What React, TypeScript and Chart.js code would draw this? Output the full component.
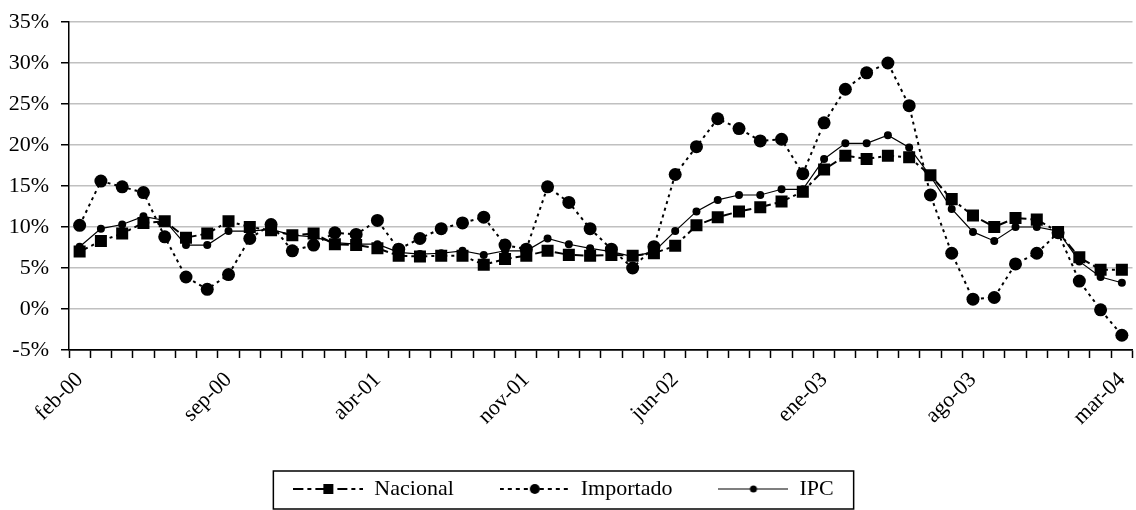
import React, { useEffect, useRef } from 'react';
import { Chart, registerables } from 'chart.js';

Chart.register(...registerables);

const months = [
  'feb-00', 'mar-00', 'abr-00', 'may-00', 'jun-00', 'jul-00', 'ago-00', 'sep-00', 'oct-00', 'nov-00', 'dic-00',
  'ene-01', 'feb-01', 'mar-01', 'abr-01', 'may-01', 'jun-01', 'jul-01', 'ago-01', 'sep-01', 'oct-01', 'nov-01', 'dic-01',
  'ene-02', 'feb-02', 'mar-02', 'abr-02', 'may-02', 'jun-02', 'jul-02', 'ago-02', 'sep-02', 'oct-02', 'nov-02', 'dic-02',
  'ene-03', 'feb-03', 'mar-03', 'abr-03', 'may-03', 'jun-03', 'jul-03', 'ago-03', 'sep-03', 'oct-03', 'nov-03', 'dic-03',
  'ene-04', 'feb-04', 'mar-04',
];

const shownLabels = ['feb-00', 'sep-00', 'abr-01', 'nov-01', 'jun-02', 'ene-03', 'ago-03', 'mar-04'];

const nacional = [
  7.0, 8.3, 9.2, 10.5, 10.7, 8.7, 9.2, 10.7, 10.0, 9.6, 9.0,
  9.2, 7.9, 7.8, 7.4, 6.5, 6.4, 6.5, 6.5, 5.4, 6.1, 6.5, 7.1,
  6.6, 6.5, 6.6, 6.5, 6.8, 7.7, 10.2, 11.2, 11.9, 12.4, 13.1, 14.3,
  17.0, 18.7, 18.3, 18.7, 18.5, 16.3, 13.4, 11.4, 10.0, 11.1, 10.9, 9.4,
  6.3, 4.8, 4.8,
];

const importado = [
  10.2, 15.6, 14.9, 14.2, 8.8, 3.9, 2.4, 4.2, 8.6, 10.3, 7.1,
  7.8, 9.3, 9.1, 10.8, 7.3, 8.6, 9.8, 10.5, 11.2, 7.8, 7.3, 14.9,
  13.0, 9.8, 7.3, 5.0, 7.6, 16.4, 19.8, 23.2, 22.0, 20.5, 20.7, 16.5,
  22.7, 26.8, 28.8, 30.0, 24.8, 13.9, 6.8, 1.2, 1.4, 5.5, 6.8, 9.3,
  3.4, -0.1, -3.2,
];

const ipc = [
  7.6, 9.8, 10.3, 11.3, 10.8, 7.8, 7.8, 9.5, 9.5, 9.7, 9.0,
  8.8, 8.1, 7.9, 7.9, 6.9, 6.7, 6.8, 7.1, 6.6, 7.1, 7.1, 8.6,
  7.9, 7.4, 7.0, 6.4, 7.0, 9.5, 11.9, 13.3, 13.9, 13.9, 14.6, 14.6,
  18.3, 20.2, 20.2, 21.2, 19.7, 16.2, 12.2, 9.4, 8.3, 10.0, 10.0, 9.5,
  5.8, 3.9, 3.2,
];

const seriesNames = ['Nacional', 'Importado', 'IPC'];
const yMin = -5;
const yMax = 35;
const yStep = 5;

const FONT = '"Liberation Serif", "Times New Roman", serif';
const ICON_W = 70;
const LEGEND_FONT = 22;
const LEGEND_PAD = 46;

function makeIcon(dash: number[], lw: number, marker: 'rect' | 'circle', r: number) {
  const c = document.createElement('canvas');
  c.width = ICON_W;
  c.height = 18;
  const ctx = c.getContext('2d')!;
  ctx.strokeStyle = '#000';
  ctx.lineWidth = lw;
  ctx.setLineDash(dash);
  ctx.beginPath();
  ctx.moveTo(0, 9);
  ctx.lineTo(ICON_W, 9);
  ctx.stroke();
  ctx.setLineDash([]);
  ctx.fillStyle = '#000';
  if (marker === 'rect') {
    ctx.fillRect(ICON_W / 2 - r, 9 - r, 2 * r, 2 * r);
  } else {
    ctx.beginPath();
    ctx.arc(ICON_W / 2, 9, r, 0, Math.PI * 2);
    ctx.fill();
  }
  return c;
}

const legendBorder = {
  id: 'legendBorder',
  afterLayout(chart: any) {
    if (chart.legend) {
      chart.legend.right -= 14;
    }
  },
  afterDraw(chart: any) {
    const boxes = chart.legend && chart.legend.legendHitBoxes;
    if (!boxes || !boxes.length) return;
    const left = Math.min(...boxes.map((b: any) => b.left)) - 20;
    const right = Math.max(...boxes.map((b: any) => b.left + b.width)) + 20;
    const top = Math.min(...boxes.map((b: any) => b.top)) - 7;
    const bottom = Math.max(...boxes.map((b: any) => b.top + b.height)) + 9;
    const ctx = chart.ctx;
    ctx.save();
    ctx.strokeStyle = '#000';
    ctx.lineWidth = 1.5;
    ctx.strokeRect(left, top, right - left, bottom - top);
    ctx.restore();
  },
};

export default function App() {
  const ref = useRef<HTMLCanvasElement>(null);

  useEffect(() => {
    const icons = [
      makeIcon([10, 4, 4, 4], 2, 'rect', 5),
      makeIcon([4, 4], 2, 'circle', 5),
      makeIcon([], 1.2, 'circle', 3.5),
    ];
    const chart = new Chart(ref.current!, {
      type: 'line',
      data: {
        labels: months,
        datasets: [
          {
            label: seriesNames[0],
            data: nacional,
            order: 1,
            borderColor: '#000',
            backgroundColor: '#000',
            borderWidth: 2,
            borderDash: [9, 4, 3, 4],
            pointStyle: 'rect',
            pointRadius: 8.5,
            pointHoverRadius: 8.5,
            pointBackgroundColor: '#000',
            pointBorderColor: '#000',
            pointBorderWidth: 0,
            tension: 0,
          },
          {
            label: seriesNames[1],
            data: importado,
            order: 2,
            borderColor: '#000',
            backgroundColor: '#000',
            borderWidth: 2,
            borderDash: [3, 4],
            pointStyle: 'circle',
            pointRadius: 6.5,
            pointHoverRadius: 6.5,
            pointBackgroundColor: '#000',
            pointBorderColor: '#000',
            pointBorderWidth: 0,
            tension: 0,
          },
          {
            label: seriesNames[2],
            data: ipc,
            order: 0,
            borderColor: '#000',
            backgroundColor: '#000',
            borderWidth: 1.2,
            pointStyle: 'circle',
            pointRadius: 4,
            pointHoverRadius: 4,
            pointBackgroundColor: '#000',
            pointBorderColor: '#000',
            pointBorderWidth: 0,
            tension: 0,
          },
        ],
      },
      options: {
        responsive: false,
        animation: false,
        devicePixelRatio: 1,
        layout: { padding: { top: 22, bottom: 0, left: 0, right: 0 } },
        plugins: {
          tooltip: { enabled: false },
          legend: {
            position: 'bottom',
            labels: {
              usePointStyle: true,
              pointStyleWidth: ICON_W,
              color: '#000',
              padding: LEGEND_PAD,
              font: { family: FONT, size: LEGEND_FONT },
              sort: (a: any, b: any) => a.datasetIndex - b.datasetIndex,
              generateLabels: (c: any) => {
                const items = (Chart.defaults as any).plugins.legend.labels.generateLabels(c);
                items.forEach((it: any) => {
                  it.pointStyle = icons[it.datasetIndex];
                });
                return items;
              },
            },
          },
        },
        scales: {
          x: {
            type: 'category',
            offset: true,
            grid: {
              display: true,
              drawOnChartArea: false,
              drawTicks: true,
              tickLength: 8,
              tickWidth: 1.5,
              tickColor: '#000',
              color: '#000',
              offset: true,
            },
            border: { display: true, color: '#000', width: 1.5 },
            ticks: {
              autoSkip: false,
              maxRotation: 45,
              minRotation: 45,
              padding: 9,
              color: '#000',
              font: { family: FONT, size: 22 },
              callback: (_v: any, i: number) => (shownLabels.includes(months[i]) ? months[i] : ''),
            },
            afterFit: (s: any) => {
              s.height = 82;
              s.paddingLeft = 0;
              s.paddingRight = 0;
            },
          },
          y: {
            min: yMin,
            max: yMax,
            grid: {
              color: (ctx: any) => (ctx.tick && ctx.tick.value === yMin ? '#000' : '#c0c0c0'),
              lineWidth: 1.5,
              drawTicks: true,
              tickLength: 8,
              tickWidth: 1.5,
              tickColor: '#000',
            },
            border: { display: true, color: '#000', width: 1.5 },
            ticks: {
              stepSize: yStep,
              padding: 12,
              color: '#000',
              font: { family: FONT, size: 22 },
              callback: (v: any) => `${v}%`,
            },
            afterFit: (s: any) => {
              s.width = 69;
              s.paddingTop = 0;
              s.paddingBottom = 0;
            },
          },
        },
      },
      plugins: [legendBorder],
    } as any);
    return () => chart.destroy();
  }, []);

  return (
    <div
      style={{
        position: 'absolute',
        left: 0,
        top: 0,
        width: 1136,
        height: 510,
        overflow: 'hidden',
        background: '#fff',
      }}
    >
      <canvas ref={ref} width={1141} height={510} style={{ display: 'block', width: 1141, height: 510 }} />
    </div>
  );
}
